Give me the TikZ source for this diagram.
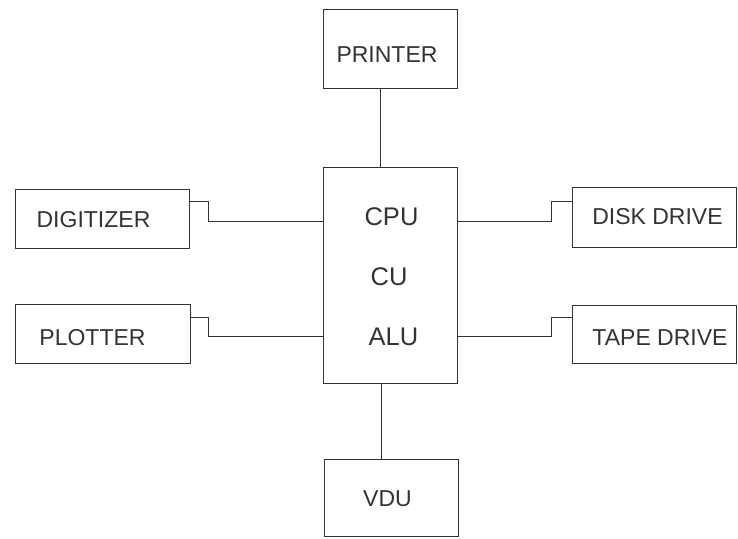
\documentclass[tikz,border=0pt]{standalone}
\usepackage{fontspec}
\setmainfont{Liberation Sans}
\definecolor{ink}{HTML}{333333}
\tikzset{
  % A unit box; the caption sits in a label so it can be nudged
  unit/.style n args={2}{
    draw=ink, line width=0.8pt, fill=white, rectangle, inner sep=0pt,
    minimum width=#1, minimum height=#2},
  % Captions
  captxt/.style={font=\fontsize{23}{27}\selectfont, text=ink, inner sep=0pt},
  capbig/.style={font=\fontsize{25.5}{30}\selectfont, text=ink, inner sep=0pt},
  % Wires
  link/.style={draw=ink, line width=0.8pt},
}

\begin{document}
\begin{tikzpicture}[x=1pt, y=-1pt]
\useasboundingbox (0,0) rectangle (738,538);

\node[unit={134pt}{216pt}, 
      label={[capbig, xshift=1.5pt, yshift=58.5pt]center:CPU},
      label={[capbig, xshift=-1pt, yshift=-2pt]center:CU},
      label={[capbig, xshift=3.5pt, yshift=-62pt]center:ALU}] (cpu) at (390,275) {};

\node[unit={134pt}{79pt}, label={[captxt, xshift=-3pt, yshift=-6.5pt]center:PRINTER}] (printer) at (390,48.5) {};
\node[unit={134pt}{77pt}, label={[captxt, xshift=-3.5pt, yshift=-1pt]center:VDU}] (vdu) at (391,497.5) {};

\node[unit={174pt}{59pt}, label={[captxt, xshift=-8.5pt, yshift=-1pt]center:DIGITIZER}] (digitizer) at (102,218.5) {};
\node[unit={175pt}{59pt}, label={[captxt, xshift=-10pt, yshift=-4.5pt]center:PLOTTER}] (plotter) at (102.5,333.5) {};

\node[unit={164pt}{60pt}, label={[captxt, xshift=3.5pt]center:DISK DRIVE}] (disk) at (654,217) {};
\node[unit={164pt}{58pt}, label={[captxt, xshift=6pt, yshift=-4pt]center:TAPE DRIVE}] (tape) at (654,334) {};

% vertical wires
\draw[link] ([xshift=-10pt]printer.south) -- ([xshift=-10pt]cpu.north);
\draw[link] ([xshift=-9pt]cpu.south) -- ([xshift=-10pt]vdu.north);

% stepped wires on the left
\draw[link] ([yshift=17.5pt]digitizer.east) -- ++(19,0) |- ([yshift=54pt]cpu.west);
\draw[link] ([yshift=16.5pt]plotter.east) -- ++(18,0) |- ([yshift=-61pt]cpu.west);

% stepped wires on the right
\draw[link] ([yshift=16pt]disk.west) -- ++(-20,0) |- ([yshift=54pt]cpu.east);
\draw[link] ([yshift=17pt]tape.west) -- ++(-20,0) |- ([yshift=-61pt]cpu.east);

\end{tikzpicture}
\end{document}
